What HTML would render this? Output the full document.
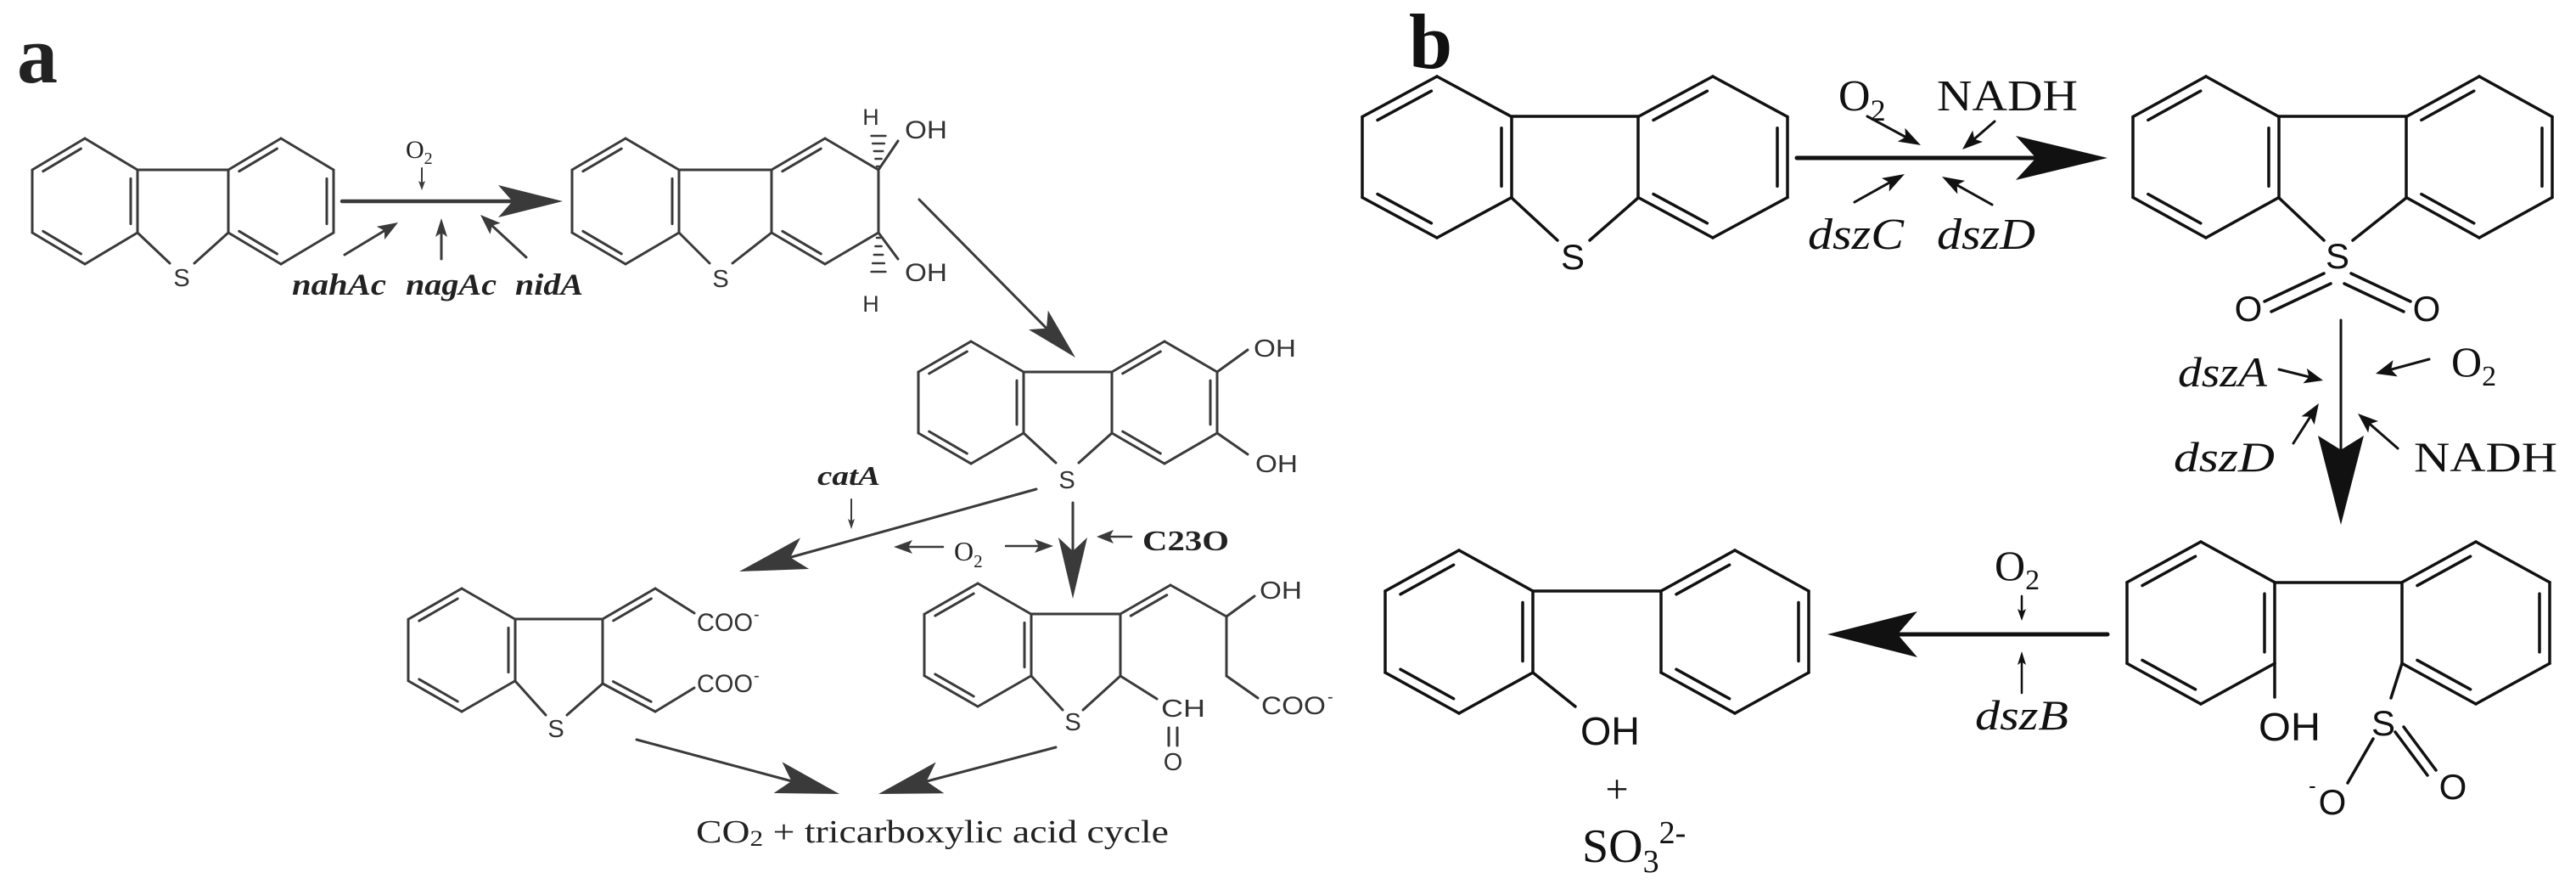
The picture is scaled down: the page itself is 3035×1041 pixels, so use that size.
<!DOCTYPE html>
<html><head><meta charset="utf-8">
<style>
html,body{margin:0;padding:0;background:#fff;}
svg{display:block;}
.sa{font-family:"Liberation Sans",sans-serif;fill:#333;}
.sr{font-family:"Liberation Serif",serif;fill:#222;}
.sb{font-family:"Liberation Sans",sans-serif;fill:#111;}
.rb{font-family:"Liberation Serif",serif;fill:#111;}
</style></head>
<body>
<svg id="s" width="3035" height="1041" viewBox="0 0 3035 1041" xmlns="http://www.w3.org/2000/svg">
<rect width="3035" height="1041" fill="#fff"/>
<g id="g"></g>
<!-- Panel a text -->
<text x="20" y="97" class="sr" font-size="96" font-weight="bold" fill="#111">a</text>
<text x="1660" y="80" class="rb" font-size="92" font-weight="bold">b</text>

<text x="214" y="337" class="sa" font-size="29" text-anchor="middle">S</text>
<text x="478" y="186" class="sr" font-size="30">O<tspan font-size="20" dy="7">2</tspan></text>
<text x="344" y="347" class="sr" font-size="36" font-weight="bold" font-style="italic" textLength="111" lengthAdjust="spacingAndGlyphs">nahAc</text>
<text x="478" y="347" class="sr" font-size="36" font-weight="bold" font-style="italic" textLength="107" lengthAdjust="spacingAndGlyphs">nagAc</text>
<text x="607" y="347" class="sr" font-size="36" font-weight="bold" font-style="italic" textLength="80" lengthAdjust="spacingAndGlyphs">nidA</text>

<text x="849" y="338" class="sa" font-size="29" text-anchor="middle">S</text>
<text x="1026" y="147" class="sa" font-size="27" text-anchor="middle">H</text>
<text x="1026" y="367" class="sa" font-size="27" text-anchor="middle">H</text>
<text x="1066" y="163" class="sa" font-size="30" textLength="50" lengthAdjust="spacingAndGlyphs">OH</text>
<text x="1066" y="331" class="sa" font-size="30" textLength="50" lengthAdjust="spacingAndGlyphs">OH</text>

<text x="1257" y="575" class="sa" font-size="29" text-anchor="middle">S</text>
<text x="1477" y="420" class="sa" font-size="29" textLength="50" lengthAdjust="spacingAndGlyphs">OH</text>
<text x="1479" y="556" class="sa" font-size="29" textLength="50" lengthAdjust="spacingAndGlyphs">OH</text>

<text x="963" y="571" class="sr" font-size="32" font-weight="bold" font-style="italic" textLength="74" lengthAdjust="spacingAndGlyphs">catA</text>
<text x="1124" y="660" class="sr" font-size="32">O<tspan font-size="21" dy="8">2</tspan></text>
<text x="1346" y="648" class="sr" font-size="34" font-weight="bold" textLength="102" lengthAdjust="spacingAndGlyphs">C23O</text>

<text x="655" y="868" class="sa" font-size="29" text-anchor="middle">S</text>
<text x="821" y="743" class="sa" font-size="30" textLength="66" lengthAdjust="spacingAndGlyphs">COO</text><text x="888" y="730" class="sa" font-size="20">-</text>
<text x="821" y="815" class="sa" font-size="30" textLength="66" lengthAdjust="spacingAndGlyphs">COO</text><text x="888" y="802" class="sa" font-size="20">-</text>

<text x="1264" y="860" class="sa" font-size="29" text-anchor="middle">S</text>
<text x="1484" y="705" class="sa" font-size="29" textLength="50" lengthAdjust="spacingAndGlyphs">OH</text>
<text x="1486" y="841" class="sa" font-size="30" textLength="76" lengthAdjust="spacingAndGlyphs">COO</text><text x="1564" y="827" class="sa" font-size="20">-</text>
<text x="1368" y="844" class="sa" font-size="29" textLength="52" lengthAdjust="spacingAndGlyphs">CH</text>
<text x="1382" y="907" class="sa" font-size="29" text-anchor="middle">O</text>

<text x="820" y="992" class="sr" font-size="38" textLength="557" lengthAdjust="spacingAndGlyphs">CO<tspan font-size="26" dy="4">2</tspan><tspan dy="-4"> + tricarboxylic acid cycle</tspan></text>

<!-- Panel b text -->
<text x="1853" y="317" class="sb" font-size="42" text-anchor="middle">S</text>
<text x="2166" y="130" class="rb" font-size="52">O<tspan font-size="36" dy="12">2</tspan></text>
<text x="2282" y="130" class="rb" font-size="52" textLength="166" lengthAdjust="spacingAndGlyphs">NADH</text>
<text x="2130" y="293" class="rb" font-size="52" font-style="italic" textLength="113" lengthAdjust="spacingAndGlyphs">dszC</text>
<text x="2282" y="293" class="rb" font-size="52" font-style="italic" textLength="116" lengthAdjust="spacingAndGlyphs">dszD</text>

<text x="2754" y="316" class="sb" font-size="42" text-anchor="middle">S</text>
<text x="2649" y="378" class="sb" font-size="42" text-anchor="middle">O</text>
<text x="2859" y="378" class="sb" font-size="42" text-anchor="middle">O</text>

<text x="2566" y="455" class="rb" font-size="50" font-style="italic" textLength="105" lengthAdjust="spacingAndGlyphs">dszA</text>
<text x="2888" y="443" class="rb" font-size="50">O<tspan font-size="34" dy="11">2</tspan></text>
<text x="2561" y="555" class="rb" font-size="50" font-style="italic" textLength="119" lengthAdjust="spacingAndGlyphs">dszD</text>
<text x="2844" y="555" class="rb" font-size="50" textLength="169" lengthAdjust="spacingAndGlyphs">NADH</text>

<text x="2661" y="872" class="sb" font-size="46" textLength="73" lengthAdjust="spacingAndGlyphs">OH</text>
<text x="2808" y="866" class="sb" font-size="42" text-anchor="middle">S</text>
<text x="2890" y="941" class="sb" font-size="42" text-anchor="middle">O</text>
<text x="2720" y="934" class="sb" font-size="26">-</text>
<text x="2748" y="959" class="sb" font-size="42" text-anchor="middle">O</text>

<text x="2350" y="683" class="rb" font-size="50">O<tspan font-size="34" dy="11">2</tspan></text>
<text x="2327" y="859" class="rb" font-size="50" font-style="italic" textLength="110" lengthAdjust="spacingAndGlyphs">dszB</text>

<text x="1862" y="877" class="sb" font-size="46" textLength="70" lengthAdjust="spacingAndGlyphs">OH</text>
<text x="1905" y="945" class="rb" font-size="48" text-anchor="middle">+</text>
<text x="1864" y="1015" class="rb" font-size="56">SO<tspan font-size="38" dy="12">3</tspan><tspan font-size="38" dy="-34">2-</tspan></text>
</svg>
<script>
(function(){
var NS='http://www.w3.org/2000/svg', g=document.getElementById('g');
var COL='#333', LW=3;
function L(x1,y1,x2,y2,w,c){var e=document.createElementNS(NS,'line');
e.setAttribute('x1',x1);e.setAttribute('y1',y1);e.setAttribute('x2',x2);e.setAttribute('y2',y2);
e.setAttribute('stroke',c||COL);e.setAttribute('stroke-width',w||LW);e.setAttribute('stroke-linecap','round');g.appendChild(e);}
function P(pts,c){var e=document.createElementNS(NS,'polygon');
e.setAttribute('points',pts.map(function(p){return p[0]+','+p[1];}).join(' '));e.setAttribute('fill',c||COL);g.appendChild(e);}
function inner(a,b,c,off){ // inner line of a-b offset toward point c
  var mx=(a[0]+b[0])/2,my=(a[1]+b[1])/2, dx=b[0]-a[0],dy=b[1]-a[1], l=Math.hypot(dx,dy);
  var nx=-dy/l,ny=dx/l; if((c[0]-mx)*nx+(c[1]-my)*ny<0){nx=-nx;ny=-ny;}
  var s=0.14;
  L(a[0]+dx*s+nx*off,a[1]+dy*s+ny*off,b[0]-dx*s+nx*off,b[1]-dy*s+ny*off);
}
function hex(cx,top,w,h,dbl,off){
  var V=[[cx,top],[cx+w,top+h/4],[cx+w,top+3*h/4],[cx,top+h],[cx-w,top+3*h/4],[cx-w,top+h/4]];
  var c=[cx,top+h/2];
  for(var i=0;i<6;i++){var a=V[i],b=V[(i+1)%6];L(a[0],a[1],b[0],b[1]);}
  dbl.forEach(function(i){inner(V[i],V[(i+1)%6],c,off);});
  return V;
}
function arrow(x1,y1,x2,y2,len,hw,lw,notch){
  notch=notch==null?0.22:notch;
  var dx=x2-x1,dy=y2-y1,l=Math.hypot(dx,dy),ux=dx/l,uy=dy/l,nx=-uy,ny=ux;
  var bx=x2-ux*len,by=y2-uy*len, kx=bx+ux*len*notch, ky=by+uy*len*notch;
  L(x1,y1,kx+ux*2,ky+uy*2,lw);
  P([[x2,y2],[bx+nx*hw,by+ny*hw],[kx,ky],[bx-nx*hw,by-ny*hw]]);
}
var D=[5,1,3];
/* ---------- Panel a ---------- */
COL='#3a3a3a'; LW=3;
// DBT
hex(100,163,62,148,D,8); hex(331,163,62,148,D,8);
L(162,200,269,200); L(162,274,200,310); L(269,274,229,310);
// arrow 1
arrow(403,237,663,237,76,19,4.5);
arrow(497,198,497,224,11,4,2);
arrow(406,300,469,262,24,9,3);
arrow(520,305,520,257,22,7,3);
arrow(620,303,566,253,24,9,3);
// compound 2
hex(737,163,63,148,D,8);
hex(972,163,63,148,[5,3],8);
L(800,200,909,200); L(800,274,836,310); L(909,274,863,310);
L(1035,200,1058,166); L(1035,274,1058,305);
for(var i=0;i<5;i++){var y=196-i*9,hw=2+i*1.6;L(1035-hw,y,1035+hw,y,2.5);}
for(var i=0;i<5;i++){var y=280+i*10,hw=2+i*1.6;L(1035-hw,y,1035+hw,y,2.5);}
// arrow 2
arrow(1083,235,1267,421,62,16,3);
// compound 3
hex(1144,402,62,144,D,8); hex(1372,402,62,144,D,8);
L(1206,438,1310,438); L(1206,510,1244,545); L(1310,510,1271,545);
L(1434,438,1470,412); L(1434,510,1470,535);
// arrows from compound 3
arrow(1221,576,871,673,80,19,3);
arrow(1003,588,1003,623,12,4,2);
arrow(1264,592,1264,705,72,17,3);
arrow(1111,644,1053,644,22,8,2.5);
arrow(1185,643,1241,643,22,8,2.5);
arrow(1333,632,1292,632,20,8,2.5);
// compound 4
hex(544,693,63,145,D,8);
L(607,729,710,729); L(607,802,643,842); L(668,842,710,805); L(710,729,710,805);
L(710,729,772,693); inner([710,729],[772,693],[760,740],8);
L(772,693,818,722);
L(710,805,772,838); inner([710,805],[772,838],[760,790],8);
L(772,838,818,810);
// compound 5
hex(1152,687,63,145,D,8);
L(1215,723,1320,723); L(1215,796,1252,836); L(1276,836,1320,796); L(1320,723,1320,796);
L(1320,723,1379,689); inner([1320,723],[1379,689],[1380,730],8);
L(1379,689,1445,726); L(1445,726,1478,702); L(1445,726,1445,796); L(1445,796,1482,822);
L(1320,796,1363,823);
L(1377,857,1377,878); L(1387,857,1387,878);
// bottom arrows
arrow(750,871,989,935,75,19,3);
arrow(1244,880,1035,935,75,19,3);

/* ---------- Panel b ---------- */
COL='#111'; LW=3.5;
hex(1693,90,88,190,D,12); hex(2018,90,88,190,D,12);
L(1781,137,1930,137); L(1781,233,1835,283); L(1930,233,1873,283);
arrow(2117,186,2483,186,108,26,5);
arrow(2200,137,2263,171,26,9,3);
arrow(2350,143,2312,176,24,9,3);
arrow(2185,238,2244,205,26,9,3);
arrow(2347,241,2288,208,26,9,3);
// sulfone
hex(2599,90,86,190,D,12); hex(2921,90,86,190,D,12);
L(2685,137,2835,137); L(2685,233,2738,283); L(2835,233,2772,283);
L(2738,322,2668,355); L(2746,334,2676,367);
L(2770,322,2840,355); L(2762,334,2832,367);
// vertical arrow
arrow(2758,377,2758,618,105,27,3,0.16);
arrow(2685,435,2737,448,22,9,3);
arrow(2862,423,2799,440,24,10,3);
arrow(2702,522,2732,475,24,9,3);
arrow(2825,528,2778,487,24,9,3);
// compound 7
hex(2593,638,87,191,D,12); hex(2917,638,87,191,D,12);
L(2680,686,2830,686);
L(2680,781,2680,821);
L(2830,781,2817,822);
L(2822,862,2860,913); L(2832,856,2870,907);
L(2796,870,2766,922);
// left arrow
arrow(2483,747,2153,747,106,27,5);
arrow(2382,702,2382,731,14,5,2.5);
arrow(2382,816,2382,767,16,5,2.5);
// biphenylol
hex(1719,648,87,192,D,12); hex(2044,648,87,192,D,12);
L(1806,696,1957,696);
L(1806,792,1856,832);
})();
</script>
</body></html>
